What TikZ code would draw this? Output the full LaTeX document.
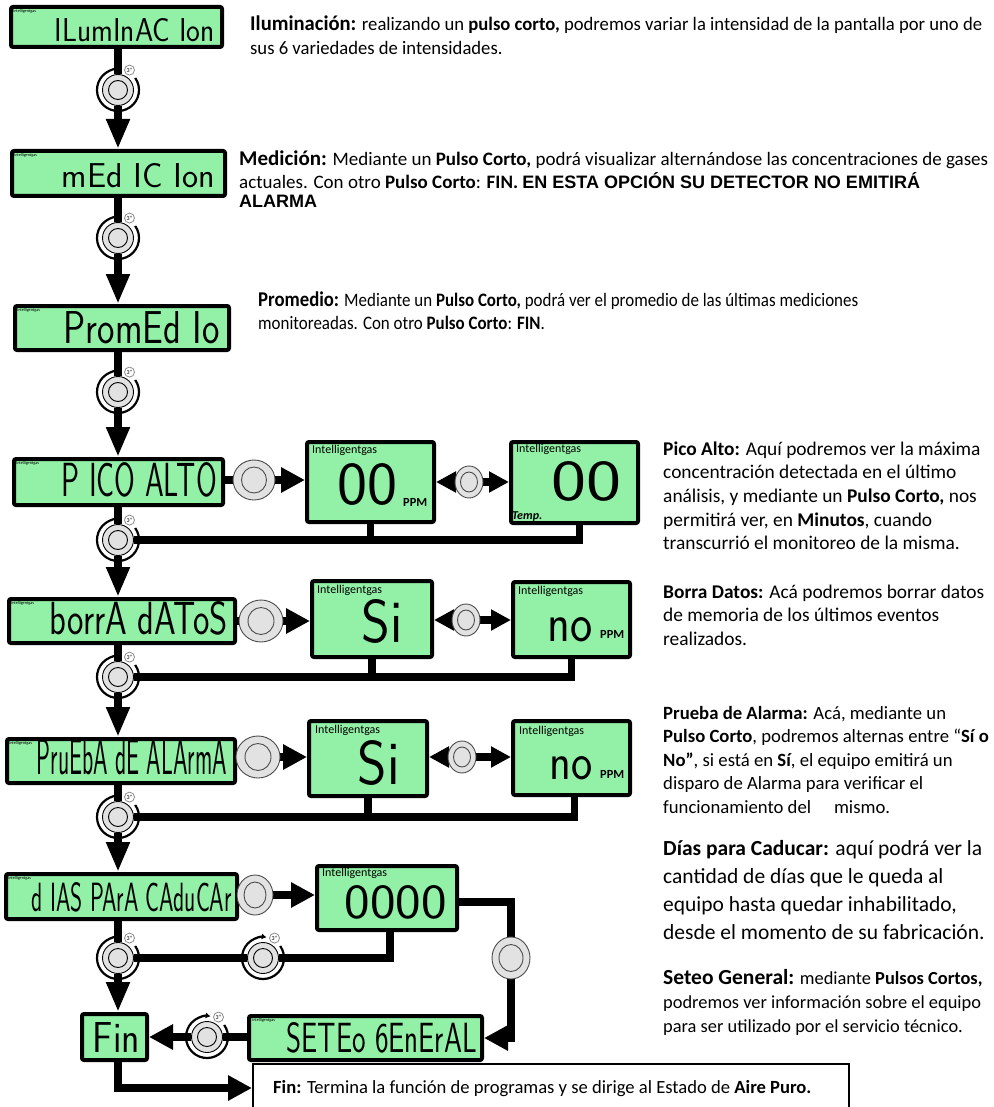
\documentclass[tikz,border=0pt]{standalone}
\usepackage{fontspec}
\usepackage{graphicx}
\setmainfont{Carlito}
\newfontfamily\arialf{Liberation Sans}
\usetikzlibrary{arrows.meta,shapes.geometric,calc}
\pgfdeclarelayer{bgwhite}
\pgfdeclarelayer{wires}
\pgfsetlayers{bgwhite,wires,main}
\definecolor{lcdg}{RGB}{146,241,166}
\definecolor{btng}{RGB}{226,226,226}
\newcommand\segt[3]{\resizebox{#1pt}{#2pt}{\sffamily\fontsize{30}{30}\selectfont #3}}
\newcommand\rpar[1]{\begin{tabular}[t]{@{}l@{}}#1\end{tabular}}
\newcommand\lpdeco[1]{%
  \draw[black,line width=0.9pt] (#1.center) circle (9.5pt);
  \draw[black,line width=2.2pt,-{Latex[length=5pt,width=6pt]}] ($(#1.center)+(35:21pt)$) arc[start angle=35,end angle=-280,radius=21pt];
  \node[circle,draw=black!45,fill=white,line width=0.8pt,minimum size=10pt,inner sep=0pt,font=\fontsize{6}{6}\selectfont] (#1-bdg) at ($(#1.center)+(60:23pt)$) {3"};
}
\newcommand\spdeco[3]{%
  \draw[black!70,line width=0.9pt] (#1.center) ellipse [x radius=#2pt, y radius=#3pt];
}
\begin{document}
\begin{tikzpicture}[x=1pt,y=-1pt,
  strip/.style={draw=black,line width=4pt,fill=lcdg,rounded corners=2pt,inner sep=0pt,anchor=north west},
  brandS/.style={font=\fontsize{4.2}{5}\selectfont,inner sep=0pt,anchor=north west},
  brandL/.style={font=\fontsize{12}{13}\selectfont,inner sep=0pt,anchor=north west},
  segtxt/.style={inner sep=0pt,anchor=south east},
  conn/.style={draw=black,line width=7.5pt},
  varr/.style={-{Triangle[width=22pt,length=30pt]}},
  harr/.style={-{Triangle[width=24pt,length=24pt]}},
  sarr/.style={-{Triangle[width=20pt,length=20pt]}},
  lbtn/.style={circle,draw=black,line width=0.9pt,fill=btng,minimum size=31pt,inner sep=0pt},
  sbtn/.style={ellipse,draw=black!70,line width=0.9pt,fill=btng,inner sep=0pt},
  rtxt/.style={inner sep=0pt,anchor=base west},
  smallb/.style={inner sep=0pt,anchor=base west,font=\fontsize{12.4}{13}\selectfont\bfseries},
]
\useasboundingbox (0,0) rectangle (993,1107);
\begin{pgfonlayer}{bgwhite}
\fill[white] (0,0) rectangle (993,1107);
\end{pgfonlayer}

% ---------- row 1
\node[strip,minimum width=211pt,minimum height=40pt] (L1) at (9,5) {};
\node[brandS] (L1b) at (13,9) {Intelligentgas};
\node[segtxt] (L1t) at (215,42) {\segt{160}{23}{ILumInAC Ion}};
\node[lbtn] (B1) at (118,90) {};
\lpdeco{B1}

% ---------- row 2
\node[strip,minimum width=213pt,minimum height=45pt] (L2) at (10,149) {};
\node[brandS] (L2b) at (14,153) {Intelligentgas};
\node[segtxt] (L2t) at (215,188) {\segt{153}{24}{mEd IC Ion}};
\node[lbtn] (B2) at (118,238) {};
\lpdeco{B2}

% ---------- row 3
\node[strip,minimum width=214pt,minimum height=44pt] (L3) at (13,304) {};
\node[brandS] (L3b) at (17,308) {Intelligentgas};
\node[segtxt] (L3t) at (220,344) {\segt{156}{32}{PromEd Io}};
\node[lbtn] (B3) at (118,392) {};
\lpdeco{B3}

% ---------- row 4
\node[strip,minimum width=209pt,minimum height=46pt] (L4) at (12,457) {};
\node[brandS] (L4b) at (16,461) {Intelligentgas};
\node[segtxt] (L4t) at (217,497) {\segt{155}{34}{P ICO ALTO}};
\node[sbtn,minimum width=42pt,minimum height=40pt] (S4) at (254,480) {};
\spdeco{S4}{12.5}{13}
\node[strip,minimum width=127pt,minimum height=80pt] (P4a) at (305,440) {};
\node[brandL] (P4ab) at (312,445) {Intelligentgas};
\node[segtxt] (P4at) at (398,506) {\segt{60}{41}{00}};
\node[smallb] (P4au) at (403,506) {PPM};
\node[sbtn,minimum width=28pt,minimum height=32pt] (D4) at (469,482) {};
\spdeco{D4}{8.5}{10}
\node[strip,minimum width=127pt,minimum height=81pt] (P4b) at (509,440) {};
\node[brandL] (P4bb) at (516,444) {Intelligentgas};
\node[segtxt] (P4bt) at (622,502) {\segt{70}{39}{00}};
\node[inner sep=0pt,anchor=base west,font=\fontsize{12}{13}\selectfont\bfseries\itshape] (P4bu) at (512,519) {Temp.};
\node[lbtn] (B4) at (118,540) {};
\lpdeco{B4}

% ---------- row 5
\node[strip,minimum width=226pt,minimum height=44pt] (L5) at (7,597) {};
\node[brandS] (L5b) at (11,601) {Intelligentgas};
\node[segtxt] (L5t) at (228,635) {\segt{178}{33}{borrA dAToS}};
\node[sbtn,minimum width=44pt,minimum height=42pt] (S5) at (261,621) {};
\spdeco{S5}{13}{13.5}
\node[strip,minimum width=120pt,minimum height=76pt] (P5a) at (310,579) {};
\node[brandL] (P5ab) at (317,585) {Intelligentgas};
\node[segtxt] (P5at) at (403,644) {\segt{41}{43}{Si}};
\node[sbtn,minimum width=28pt,minimum height=32pt] (D5) at (466,620) {};
\spdeco{D5}{8.5}{10}
\node[strip,minimum width=117pt,minimum height=75pt] (P5b) at (511,580) {};
\node[brandL] (P5bb) at (518,586) {Intelligentgas};
\node[segtxt] (P5bt) at (593,642) {\segt{45}{24}{no}};
\node[smallb] (P5bu) at (600,638) {PPM};
\node[lbtn] (B5) at (118,677) {};
\lpdeco{B5}

% ---------- row 6
\node[strip,minimum width=228pt,minimum height=44pt] (L6) at (5,737) {};
\node[brandS] (L6b) at (9,741) {Intelligentgas};
\node[segtxt] (L6t) at (227,775) {\segt{190}{35}{PruEbA dE ALArmA}};
\node[sbtn,minimum width=44pt,minimum height=42pt] (S6) at (258,757) {};
\spdeco{S6}{13}{13.5}
\node[strip,minimum width=118pt,minimum height=75pt] (P6a) at (307,719) {};
\node[brandL] (P6ab) at (315,725) {Intelligentgas};
\node[segtxt] (P6at) at (400,786) {\segt{42}{44}{Si}};
\node[sbtn,minimum width=28pt,minimum height=32pt] (D6) at (462,757) {};
\spdeco{D6}{8.5}{10}
\node[strip,minimum width=117pt,minimum height=74pt] (P6b) at (511,719) {};
\node[brandL] (P6bb) at (519,726) {Intelligentgas};
\node[segtxt] (P6bt) at (593,780) {\segt{43}{23}{no}};
\node[smallb] (P6bu) at (600,778) {PPM};
\node[lbtn] (B6) at (118,817) {};
\lpdeco{B6}

% ---------- row 7
\node[strip,minimum width=231pt,minimum height=45pt] (L7) at (4,872) {};
\node[brandS] (L7b) at (8,876) {Intelligentgas};
\node[segtxt] (L7t) at (232,912) {\segt{200}{29}{d IAS PArA CAduCAr}};
\node[sbtn,minimum width=36pt,minimum height=40pt] (S7) at (255,895) {};
\spdeco{S7}{11}{13}
\node[strip,minimum width=140pt,minimum height=64pt] (P7) at (315,864) {};
\node[brandL] (P7b) at (322,868) {Intelligentgas};
\node[segtxt] (P7t) at (447,919) {\segt{102}{33}{0000}};
\node[sbtn,minimum width=38pt,minimum height=42pt] (S7b) at (511,958) {};
\spdeco{S7b}{12}{13.5}
\node[lbtn] (B7) at (118,958) {};
\lpdeco{B7}
\node[lbtn] (B7b) at (263,958) {};
\lpdeco{B7b}

% ---------- row 8
\node[strip,minimum width=65pt,minimum height=46pt] (Fin) at (80,1012) {};
\node[segtxt] (Fint) at (140,1053) {\segt{47}{30}{Fin}};
\node[lbtn] (B8) at (207,1037) {};
\lpdeco{B8}
\node[strip,minimum width=233pt,minimum height=44pt] (SG) at (247,1014) {};
\node[brandS] (SGb) at (252,1018) {Intelligentgas};
\node[segtxt] (SGt) at (477,1053) {\segt{190}{30}{SETEo 6EnErAL}};
\node[draw=black,line width=2pt,anchor=north west,minimum width=596pt,minimum height=62pt,inner sep=0pt] (FT) at (252,1063) {};
\node[rtxt,font=\fontsize{18.6}{22}\selectfont] (FTt) at (273,1093) {\textbf{Fin:} Termina la función de programas y se dirige al Estado de \textbf{Aire Puro.}};

% ---------- connectors
\begin{pgfonlayer}{wires}
\draw[conn] (L1.south -| B1) -- (B1);
\draw[conn,varr] (B1) -- (B1 |- L2.north);
\draw[conn] (L2.south -| B2) -- (B2);
\draw[conn,varr] (B2) -- (B2 |- L3.north);
\draw[conn] (L3.south -| B3) -- (B3);
\draw[conn,varr] (B3) -- (B3 |- L4.north);
% row 4
\draw[conn] (L4.east |- S4) -- (S4);
\draw[conn,harr] (S4) -- (P4a.west |- S4);
\draw[conn,sarr] (D4) -- (P4a.east |- D4);
\draw[conn,sarr] (D4) -- (P4b.west |- D4);
\draw[conn] (L4.south -| B4) -- (B4);
\draw[conn] (B4) -| ([xshift=5pt]P4b.south);
\draw[conn] (P4a.south) -- (P4a.south |- B4);
\draw[conn,varr] (B4) -- (B4 |- L5.north);
% row 5
\draw[conn] (L5.east |- S5) -- (S5);
\draw[conn,harr] (S5) -- (P5a.west |- S5);
\draw[conn,sarr] (D5) -- (P5a.east |- D5);
\draw[conn,sarr] (D5) -- (P5b.west |- D5);
\draw[conn] (L5.south -| B5) -- (B5);
\draw[conn] (B5) -| (P5b.south);
\draw[conn] (P5a.south) -- (P5a.south |- B5);
\draw[conn,varr] (B5) -- (B5 |- L6.north);
% row 6
\draw[conn] (L6.east |- S6) -- (S6);
\draw[conn,harr] (S6) -- (P6a.west |- S6);
\draw[conn,sarr] (D6) -- (P6a.east |- D6);
\draw[conn,sarr] (D6) -- (P6b.west |- D6);
\draw[conn] (L6.south -| B6) -- (B6);
\draw[conn] (B6) -| ([xshift=3pt]P6b.south);
\draw[conn] (P6a.south) -- (P6a.south |- B6);
\draw[conn,varr] (B6) -- (B6 |- L7.north);
% row 7
\draw[conn] (L7.east |- S7) -- (S7);
\draw[conn,harr] (S7) -- (P7.west |- S7);
\draw[conn] ([yshift=-4pt]P7.east) -| (S7b);
\draw[conn,harr] (S7b) |- (SG.east);
\draw[conn] (L7.south -| B7) -- (B7);
\draw[conn] ([xshift=3pt]P7.south) |- (B7b);
\draw[conn] (B7b) -- (B7);
\draw[conn,varr] (B7) -- (B7 |- Fin.north);
% row 8
\draw[conn] (SG.west |- B8) -- (B8);
\draw[conn,harr] (B8) -- (Fin.east |- B8);
\draw[conn,harr] (B7 |- Fin.south) |- ([yshift=7pt]FT.west);
\end{pgfonlayer}

% ---------- descriptions
\node[rtxt,font=\fontsize{19}{24}\selectfont] (tIlu) at (250,31) {\resizebox{732pt}{\height}{\rpar{{\fontsize{21}{24}\selectfont\bfseries Iluminación:} realizando un \textbf{pulso corto,} podremos variar la intensidad de la pantalla por uno de\\ sus 6 variedades de intensidades.}}};
\node[rtxt,font=\fontsize{19}{23}\selectfont] (tMed) at (239,166) {\resizebox{749pt}{\height}{\rpar{{\fontsize{21}{23}\selectfont\bfseries Medición:} Mediante un \textbf{Pulso Corto,} podrá visualizar alternándose las concentraciones de gases\\ actuales. Con otro \textbf{Pulso Corto}: \textbf{FIN.} {\arialf\bfseries\fontsize{18}{19}\selectfont EN ESTA OPCIÓN SU DETECTOR NO EMITIRÁ}\\[-4pt] {\arialf\bfseries\fontsize{18}{19}\selectfont ALARMA}}}};
\node[rtxt,font=\fontsize{19}{23}\selectfont] (tPro) at (258,306.5) {\resizebox{600pt}{\height}{\rpar{{\fontsize{21}{23}\selectfont\bfseries Promedio:} Mediante un \textbf{Pulso Corto,} podrá ver el promedio de las últimas mediciones\\ monitoreadas. Con otro \textbf{Pulso Corto}: \textbf{FIN}.}}};

\node[rtxt,font=\fontsize{19.4}{23.7}\selectfont] (tPic) at (663,455) {\rpar{\textbf{Pico Alto:} Aquí podremos ver la máxima\\ concentración detectada en el último\\ análisis, y mediante un \textbf{Pulso Corto,} nos\\ permitirá ver, en \textbf{Minutos}, cuando\\ transcurrió el monitoreo de la misma.}};
\node[rtxt,font=\fontsize{19.4}{23.7}\selectfont] (tBor) at (663,598) {\rpar{\textbf{Borra Datos:} Acá podremos borrar datos\\ de memoria de los últimos eventos\\ realizados.}};
\node[rtxt,font=\fontsize{18.7}{23.5}\selectfont] (tPru) at (663,719) {\rpar{\textbf{Prueba de Alarma:} Acá, mediante un\\ \textbf{Pulso Corto}, podremos alternas entre “\textbf{Sí o}\\ \textbf{No”}, si está en \textbf{Sí}, el equipo emitirá un\\ disparo de Alarma para verificar el\\ funcionamiento del\hspace{1em} mismo.}};
\node[rtxt,font=\fontsize{21.5}{28.3}\selectfont] (tDia) at (663,855) {\rpar{\textbf{Días para Caducar:} aquí podrá ver la\\ cantidad de días que le queda al\\ equipo hasta quedar inhabilitado,\\ desde el momento de su fabricación.}};
\node[rtxt,font=\fontsize{18.4}{24}\selectfont] (tSet) at (663,984) {\rpar{{\fontsize{21.5}{24}\selectfont\bfseries Seteo General:} mediante \textbf{Pulsos Cortos,}\\ podremos ver información sobre el equipo\\ para ser utilizado por el servicio técnico.}};
\end{tikzpicture}
\end{document}
